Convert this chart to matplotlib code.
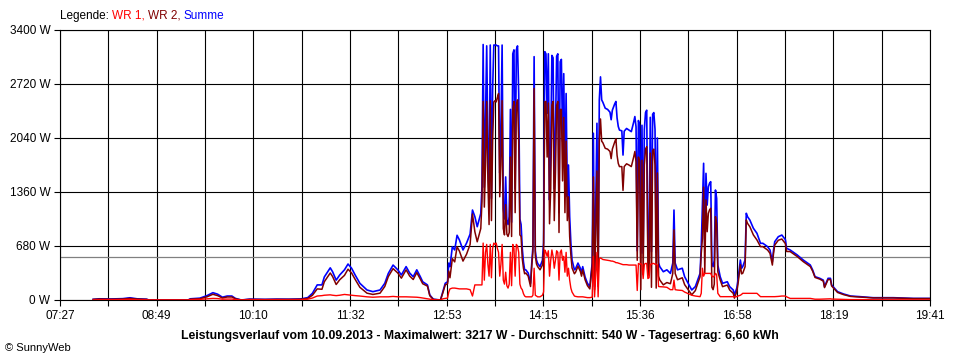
'''Leistungsverlauf SunnyWeb - Nachbau als matplotlib Diagramm.'''

import numpy as np
import matplotlib.pyplot as plt

plt.rcParams['font.family'] = ['Liberation Sans', 'DejaVu Sans']

# Zeit in Minuten seit Mitternacht, Leistung in W
zeit = [475, 480, 490, 500, 506, 512, 520, 522, 555, 557, 565, 571, 576, 580, 584, 588, 592, 595, 600,
        607, 620, 630, 640, 650, 656, 660, 664, 668, 670, 675, 677, 680, 683, 687, 690, 693, 696, 700,
        706, 711, 717, 721, 724, 728, 732, 735, 739, 742, 745, 748, 751, 753, 757, 759, 762, 768, 770,
        772, 774, 775, 776, 778, 780, 782, 784, 787, 790, 793, 795, 797, 799, 802, 803,
        804, 805, 806, 807, 808, 809, 810, 811, 812, 813, 814, 815, 816, 817, 818, 819, 820, 821, 822,
        823, 824, 825, 826, 827, 828, 829, 830, 831, 832, 833, 834, 835, 836, 837, 838, 839, 840, 842,
        844, 845, 846, 847, 848, 849, 850, 852, 854, 855, 856,
        857, 858, 859, 860, 861, 862, 863, 864, 865, 866, 867, 868, 869, 870, 871, 872, 873, 874, 875,
        876, 877, 878, 879, 881, 882, 884, 886, 887, 888, 890, 892, 894, 896, 897, 898, 900, 901, 902,
        903, 904, 905, 907, 909, 911, 912, 913, 915, 916, 917, 918, 919, 921, 922, 923, 925, 927, 929,
        931, 932, 933, 934, 935, 936, 937, 938, 939, 940, 941, 942, 943, 944, 945, 946, 947, 948, 949,
        950, 951, 952, 953, 956, 959, 962, 964, 965, 966, 968, 972, 974, 977, 980, 983, 987,
        988, 989, 990, 991, 992, 993, 994, 995, 996, 997, 998, 999, 1000, 1001, 1002, 1004, 1006, 1010,
        1012, 1015, 1016, 1018, 1019, 1021, 1022, 1023, 1025, 1026, 1027, 1029, 1032, 1035, 1038, 1040,
        1044, 1046, 1048, 1049, 1050, 1053, 1056, 1059, 1060, 1063, 1069, 1074, 1080, 1082, 1084, 1088,
        1091, 1092, 1095, 1097, 1098, 1103, 1108, 1114, 1122, 1133, 1150, 1167, 1181]

wr1 = [0, 3, 3, 5, 8, 3, 2, 0, 0, 5, 8, 15, 20, 18, 10, 12, 12, 5, 0,
       3, 2, 3, 2, 3, 10, 25, 50, 55, 60, 65, 60, 55, 60, 70, 65, 60, 55, 50,
       40, 35, 40, 40, 40, 45, 40, 40, 40, 38, 35, 35, 30, 25, 15, 10, 3, 0, 15,
       20, 25, 100, 140, 150, 150, 145, 140, 140, 140, 130, 50, 190, 190, 190, 190,
       717, 250, 600, 700, 450, 300, 700, 280, 650, 717, 700, 717, 650, 600, 300, 450, 700, 250, 200,
       350, 180, 150, 200, 600, 180, 700, 650, 300, 700, 680, 600, 200, 150, 130, 80, 50, 40, 40,
       40, 40, 60, 400, 60, 50, 40, 40, 60, 100, 630,
       600, 550, 620, 300, 500, 630, 550, 400, 500, 620, 600, 250, 600, 630, 500, 550, 350, 600, 300,
       400, 250, 150, 100, 50, 45, 40, 40, 40, 40, 35, 30, 30, 35, 550, 40, 600, 40, 520,
       530, 520, 510, 505, 500, 495, 490, 490, 480, 470, 470, 465, 460, 450, 445, 445, 445, 440, 440,
       440, 440, 440, 120, 460, 450, 460, 440, 270, 450, 460, 460, 270, 280, 450, 450, 460, 460, 450,
       450, 440, 170, 168, 165, 160, 130, 130, 250, 130, 125, 120, 100, 80, 60, 50, 42,
       84, 400, 300, 335, 335, 335, 335, 335, 335, 300, 290, 300, 335, 320, 84, 42, 42, 42,
       42, 42, 40, 42, 50, 60, 70, 84, 84, 84, 84, 84, 84, 84, 42, 42,
       42, 42, 42, 42, 42, 45, 50, 50, 40, 20, 20, 20, 20, 15, 10, 10,
       12, 12, 15, 15, 12, 10, 8, 5, 5, 3, 3, 2, 2]

wr2 = [8, 12, 10, 12, 20, 12, 8, 0, 0, 10, 15, 40, 72, 55, 25, 38, 38, 15, 0,
       8, 6, 8, 8, 10, 20, 60, 140, 135, 230, 340, 295, 195, 255, 310, 388, 340, 260, 160,
       86, 70, 86, 170, 295, 395, 340, 275, 380, 302, 258, 345, 263, 205, 175, 53, 7, 0, 90,
       190, 205, 365, 280, 520, 480, 670, 615, 490, 577, 700, 1083, 860, 733, 900, 1237,
       2500, 1170, 1700, 2500, 1500, 950, 2510, 1000, 2000, 2494, 2510, 2494, 2550, 2600, 1300, 1700, 2510, 900, 820,
       1200, 830, 800, 850, 1800, 800, 2400, 2500, 1100, 2450, 2520, 2000, 820, 800, 520, 400, 330, 340, 300,
       170, 425, 610, 2664, 560, 454, 420, 380, 440, 620, 2497,
       2500, 1800, 2480, 960, 1400, 2450, 2500, 1000, 1600, 2450, 2500, 850, 2400, 2400, 1500, 2300, 1100, 2000, 1000,
       1300, 800, 570, 404, 330, 350, 425, 360, 300, 380, 255, 180, 140, 430, 1550, 130, 1625, 170, 2000,
       2280, 2000, 1980, 1910, 1900, 1870, 1780, 1900, 1990, 2030, 1820, 1720, 1680, 1680, 1380, 1680, 1715, 1700, 1680,
       1800, 1870, 1740, 500, 1800, 1750, 130, 1760, 320, 1700, 1900, 1930, 400, 310, 1850, 160, 1880, 1900, 1700,
       150, 1600, 300, 252, 191, 220, 205, 335, 883, 335, 255, 280, 193, 130, 66, 118, 293,
       586, 775, 1421, 335, 1260, 860, 1090, 1135, 1155, 162, 130, 200, 1050, 960, 356, 251, 168, 188,
       126, 84, 23, 108, 200, 444, 329, 336, 420, 1008, 966, 923, 819, 756, 672, 672,
       629, 588, 440, 588, 692, 752, 768, 710, 611, 610, 547, 484, 421, 363, 284, 263,
       238, 156, 258, 258, 177, 95, 68, 45, 37, 26, 26, 18, 18]

y_werte = [0, 680, 1360, 2040, 2720, 3400]
y_labels = ['0 W', '680 W', '1360 W', '2040 W', '2720 W', '3400 W']
x_labels = ['07:27', '08:49', '10:10', '11:32', '12:53', '14:15', '15:36', '16:58', '18:19', '19:41']
durchschnitt = 540
titel = ('Leistungsverlauf vom 10.09.2013 - Maximalwert: 3217 W - '
         'Durchschnitt: 540 W - Tagesertrag: 6,60 kWh')

t = np.array(zeit)
p1 = np.array(wr1)
p2 = np.array(wr2)
summe = p1 + p2

fig = plt.figure(figsize=(9.6, 3.6), dpi=100)
ax = fig.add_axes([60 / 960, 60 / 360, 870 / 960, 270 / 360])

x_start, x_ende = 447, 1181
ax.set_xlim(x_start, x_ende)
ax.set_ylim(0, 3400)

# gitter: 18 spalten, beschriftet wird jede zweite
gitter_x = np.linspace(x_start, x_ende, 19)
ax.set_xticks(gitter_x)
ax.set_xticklabels([x_labels[i // 2] if i % 2 == 0 else '' for i in range(19)])
ax.set_yticks(y_werte)
ax.set_yticklabels(y_labels)
ax.grid(True, color='black', linewidth=0.8)
ax.set_axisbelow(True)
ax.tick_params(direction='out', length=4, width=0.8, color='black', labelsize=8.5, pad=3)
for s in ax.spines.values():
    s.set_color('black')
    s.set_linewidth(0.8)

ax.axhline(durchschnitt, color='#808080', linewidth=0.9, zorder=2)

ax.plot(t, summe, color='#0000ff', linewidth=1.2, zorder=3)
ax.plot(t, p2, color='#800000', linewidth=1.1, zorder=4)
ax.plot(t, p1, color='#ff0000', linewidth=1.0, zorder=5)

# legende oben links, mehrfarbig
txt = fig.text(60 / 960, 1 - 16 / 360, 'Legende: ', fontsize=8.5, va='center', color='black')
for wort, farbe in [('WR 1, ', '#ff0000'), ('WR 2, ', '#800000'), ('Summe', '#0000ff')]:
    txt = ax.annotate(wort, xy=(1, 0), xycoords=txt, va='bottom', fontsize=8.5, color=farbe)

fig.text(480 / 960, 1 - 336 / 360, titel, ha='center', va='center', fontsize=8.8, fontweight='bold')
fig.text(5 / 960, 1 - 348 / 360, '© SunnyWeb', ha='left', va='center', fontsize=8)

plt.savefig('out.png', dpi=100)
